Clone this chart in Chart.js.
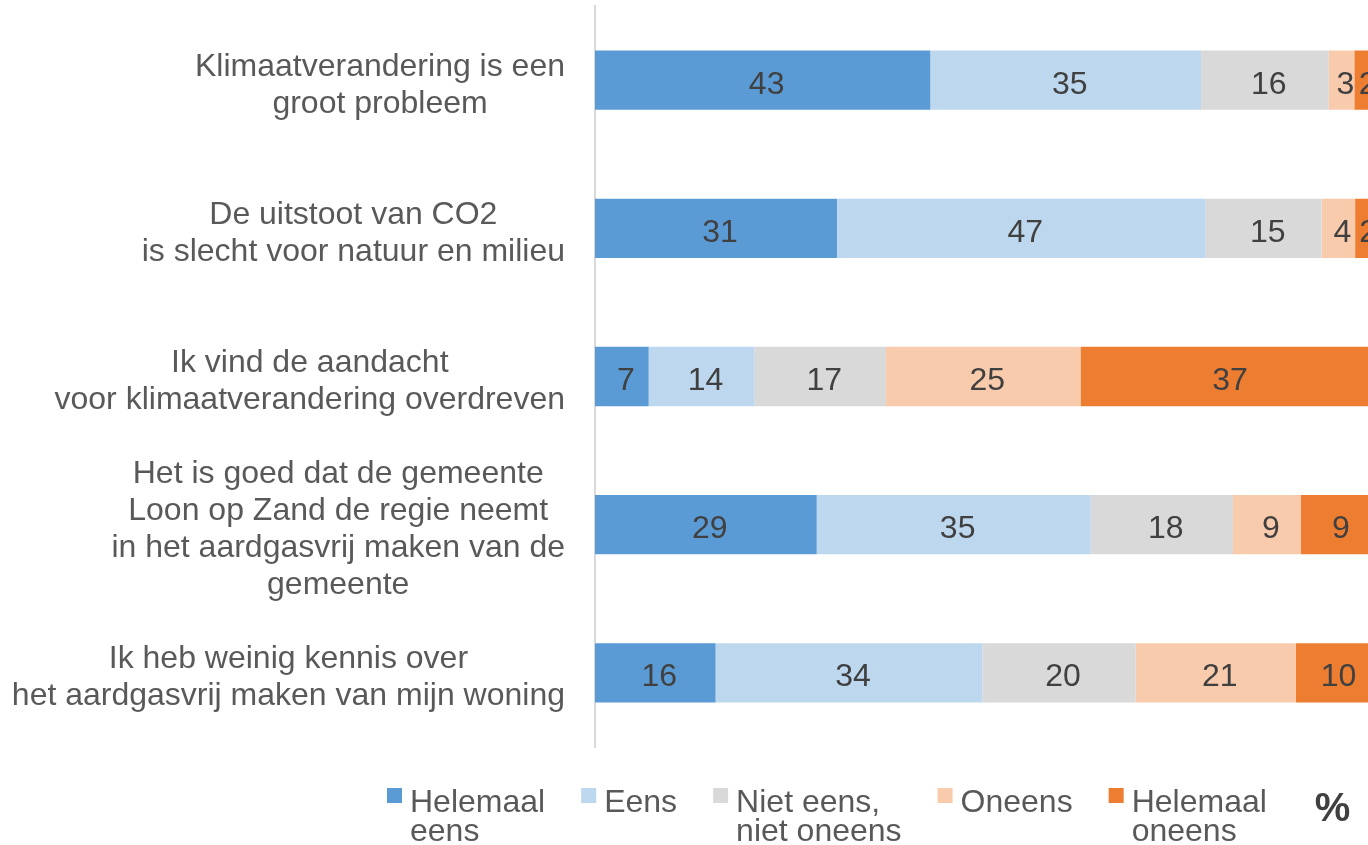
<!DOCTYPE html>
<html>
<head>
<meta charset="utf-8">
<title>Stellingen klimaat en aardgasvrij</title>
<script src="https://cdn.jsdelivr.net/npm/chart.js@4.4.1/dist/chart.umd.min.js"></script>
<style>
    html, body { margin: 0; padding: 0; background: #fff; overflow: hidden; }
    #wrap { position: absolute; left: 0; top: 0; width: 1373px; height: 845px; }
</style>
</head>
<body>
<div id="wrap"><canvas id="chart" width="1373" height="845"></canvas></div>
<script>
// =====================
// Data (percentages per statement)
// =====================

const categories = [
    ['Klimaatverandering is een', 'groot probleem'],
    ['De uitstoot van CO2', 'is slecht voor natuur en milieu'],
    ['Ik vind de aandacht', 'voor klimaatverandering overdreven'],
    ['Het is goed dat de gemeente', 'Loon op Zand de regie neemt', 'in het aardgasvrij maken van de', 'gemeente'],
    ['Ik heb weinig kennis over', 'het aardgasvrij maken van mijn woning']
];

const seriesNames = [
    ['Helemaal', 'eens'],
    ['Eens'],
    ['Niet eens,', 'niet oneens'],
    ['Oneens'],
    ['Helemaal', 'oneens']
];

const helemaalEens       = [43.1, 31.1, 6.9, 28.5, 15.5];
const eens               = [34.8, 47.4, 13.6, 35.2, 34.3];
const nietEensNietOneens = [16.4, 14.9, 16.9, 18.3, 19.7];
const oneens             = [3.3, 4.3, 25.0, 8.7, 20.6];
const helemaalOneens     = [2.4, 2.3, 37.4, 9.3, 9.9];

const seriesValues = [helemaalEens, eens, nietEensNietOneens, oneens, helemaalOneens];
const seriesColors = ['#5B9BD5', '#BDD7EE', '#D9D9D9', '#F8CBAD', '#ED7D31'];
const unitLabel = '%';

const fontFamily = '"Liberation Sans", Arial, sans-serif';
const textGrey = '#595959';
const valueGrey = '#404040';

// =====================
// Labels, values and legend drawn on the canvas
// =====================

const drawExtras = {
    id: 'drawExtras',
    afterDatasetsDraw(chart) {
        const ctx = chart.ctx;
        const yScale = chart.scales.y;
        ctx.save();
        ctx.font = '32px ' + fontFamily;

        // values inside the bars (slightly right of centre, like the original)
        ctx.fillStyle = valueGrey;
        ctx.textAlign = 'center';
        ctx.textBaseline = 'alphabetic';
        chart.data.datasets.forEach((ds, i) => {
            chart.getDatasetMeta(i).data.forEach((bar, j) => {
                const x = (bar.x + bar.base) / 2 + 4;
                ctx.fillText(String(Math.round(ds.data[j])), x, bar.y + 13.5);
            });
        });

        // category labels: block right aligned, lines centered in the block
        ctx.fillStyle = textGrey;
        const right = yScale.right - 30;
        const lineH = 37;
        categories.forEach((lines, i) => {
            const yc = yScale.getPixelForValue(i);
            const w = Math.max(...lines.map(l => ctx.measureText(l).width));
            const cx = right - w / 2;
            let y = yc - (lines.length - 1) * lineH / 2 + 14;
            lines.forEach(l => {
                ctx.fillText(l, cx, y);
                y += lineH;
            });
        });

        // legend
        ctx.textAlign = 'left';
        let x = 387;
        const boxTop = 788;
        seriesNames.forEach((lines, i) => {
            ctx.fillStyle = seriesColors[i];
            ctx.fillRect(x, boxTop, 15, 15);
            ctx.fillStyle = textGrey;
            lines.forEach((l, k) => ctx.fillText(l, x + 23, 812 + k * 28.5));
            const w = Math.max(...lines.map(l => ctx.measureText(l).width));
            x += 23 + w + (i < seriesNames.length - 1 ? 36 : 48);
        });

        ctx.font = 'bold 40px ' + fontFamily;
        ctx.fillStyle = valueGrey;
        ctx.fillText(unitLabel, x, 821);
        ctx.restore();
    }
};

// =====================
// Chart
// =====================

new Chart(document.getElementById('chart'), {
    type: 'bar',
    data: {
        labels: categories,
        datasets: seriesValues.map((vals, i) => ({
            label: seriesNames[i].join(' '),
            data: vals,
            backgroundColor: seriesColors[i],
            borderWidth: 0,
            barPercentage: 0.4,
            categoryPercentage: 1
        }))
    },
    options: {
        indexAxis: 'y',
        responsive: false,
        animation: false,
        layout: { padding: { top: 6, bottom: 98, left: 0, right: 0 } },
        plugins: {
            legend: { display: false },
            tooltip: { enabled: false }
        },
        scales: {
            x: { stacked: true, min: 0, max: 100, display: false },
            y: {
                stacked: true,
                grid: { display: false },
                border: { display: true, color: '#D9D9D9', width: 2 },
                ticks: { display: false },
                afterFit(scale) { scale.width = 595; }
            }
        }
    },
    plugins: [drawExtras]
});
</script>
</body>
</html>
